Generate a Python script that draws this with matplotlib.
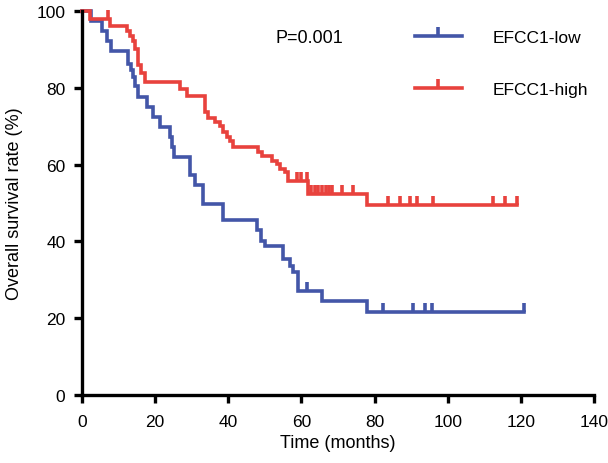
import matplotlib
matplotlib.use("Agg")
import matplotlib.pyplot as plt
import numpy as np
from matplotlib.lines import Line2D
from matplotlib.path import Path

# step data (months, % surviving)
low_t = [0, 2.5, 5.5, 6.8, 8.0, 12.6, 13.3, 14.0, 14.6, 15.4, 17.7, 19.5, 21.3,
         24.0, 24.6, 25.2, 29.5, 30.9, 33.2, 38.6, 47.8, 49.0, 50.0, 55.0,
         56.9, 57.8, 59.0, 65.6, 77.8]
low_s = [100, 97.4, 94.8, 92.2, 89.6, 86.2, 84.5, 82.8, 80.4, 77.6, 75.0, 72.4,
         69.8, 67.2, 64.6, 62.0, 57.4, 54.8, 49.8, 45.6, 43.0, 40.2, 38.8, 35.4,
         33.6, 32.0, 27.2, 24.6, 21.6]
low_cens = [61.4, 82.3, 90.5, 93.8, 95.7, 120.8]

high_t = [0, 2.2, 7.7, 12.3, 13.2, 14.0, 14.5, 15.3, 16.2, 17.1, 26.8, 28.6,
          33.6, 34.5, 36.3, 37.8, 38.6, 39.5, 40.4, 41.4, 48.2, 49.1, 51.9,
          53.2, 54.2, 55.6, 56.4, 61.9, 77.8]
high_s = [100, 97.8, 96.2, 94.8, 93.6, 92.2, 90.2, 86.0, 83.8, 81.5, 79.7, 77.9,
          73.8, 72.0, 71.0, 70.0, 68.4, 67.3, 66.1, 64.6, 63.4, 62.2, 61.0,
          60.1, 58.9, 58.0, 55.8, 52.3, 49.4]
high_cens = [7.1, 58.7, 60.0, 61.4, 62.6, 63.6, 64.6, 65.6, 66.6, 67.6, 68.4,
             71.0, 74.2, 83.7, 87.0, 89.7, 91.5, 96.0, 112.4, 115.7, 119.0]

blue = '#4356A8'
red = '#E8423D'
tick = Path([(0, 0), (0, 1)])  # upward censor tick
LW = 2.6


def km_at(t_ev, s_ev, tc):
    idx = np.searchsorted(t_ev, tc, side='right') - 1
    return np.asarray(s_ev)[idx]


def draw_curve(ax, t_ev, s_ev, cens, color):
    end = max(cens)
    t = list(t_ev) + [end]
    s = list(s_ev) + [s_ev[-1]]
    ax.step(t, s, where='post', color=color, lw=LW, clip_on=False,
            solid_joinstyle='miter')
    ax.plot(cens, km_at(t_ev, s_ev, cens), ls='none', marker=tick, ms=13,
            mew=LW, color=color, clip_on=False)


plt.rcParams['font.family'] = ['Liberation Sans', 'DejaVu Sans']

fig = plt.figure(figsize=(6.08, 4.64), dpi=100)
ax = fig.add_axes([0.135, 0.1466, 0.842, 0.8276])

draw_curve(ax, low_t, low_s, low_cens, blue)
draw_curve(ax, high_t, high_s, high_cens, red)

ax.set_xlim(0, 140)
ax.set_ylim(0, 100)
ax.set_xticks(np.arange(0, 141, 20))
ax.set_yticks(np.arange(0, 101, 20))
for sp in ['top', 'right']:
    ax.spines[sp].set_visible(False)
for sp in ['left', 'bottom']:
    ax.spines[sp].set_linewidth(2.4)
ax.tick_params(width=2.4, length=6, labelsize=12.5)
ax.tick_params(axis='x', pad=8)
ax.tick_params(axis='y', pad=6)
ax.set_xlabel('Time (months)', fontsize=13, labelpad=3)
ax.set_ylabel('Overall survival rate (%)', fontsize=13, labelpad=10)

ax.text(53, 93, 'P=0.001', fontsize=13, va='center')

handles = [Line2D([], [], color=blue, lw=LW, marker=tick, ms=13, mew=LW),
           Line2D([], [], color=red, lw=LW, marker=tick, ms=13, mew=LW)]
ax.legend(handles, ['EFCC1-low', 'EFCC1-high'], loc='upper left',
          bbox_to_anchor=(0.65, 0.95), frameon=False, fontsize=12.5,
          handlelength=2.7, handletextpad=1.8, labelspacing=2.1,
          borderpad=0, borderaxespad=0)

fig.savefig('out.png', dpi=100)
